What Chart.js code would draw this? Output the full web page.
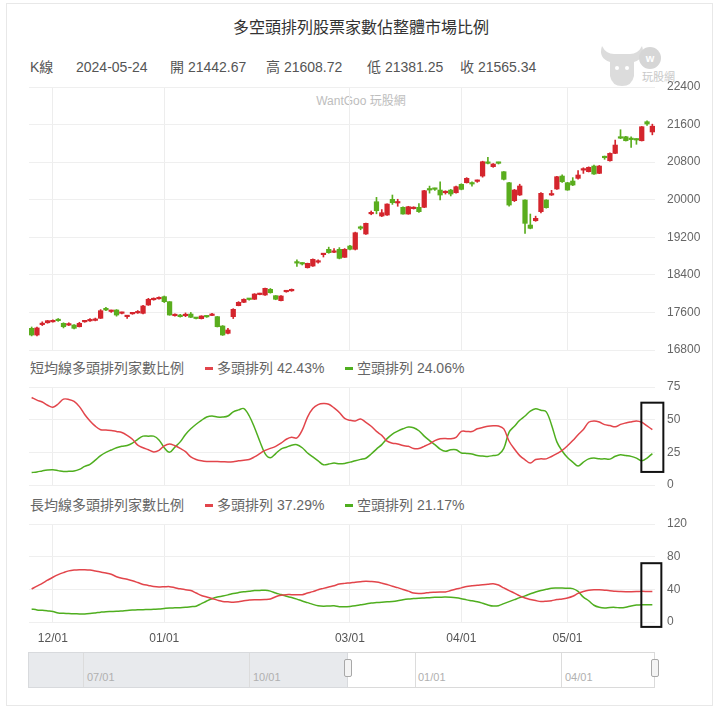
<!DOCTYPE html>
<html>
<head>
<meta charset="utf-8">
<script src="https://cdn.jsdelivr.net/npm/chart.js@4.4.1/dist/chart.umd.min.js"></script>
<style>
body { margin: 0; background: #fff; font-family: "Liberation Sans", "Noto Sans CJK TC", sans-serif; }
#wrap { position: relative; width: 720px; height: 710px; overflow: hidden; }
#frame { position: absolute; left: 6px; top: 3px; width: 707px; height: 703px; border: 1px solid #e8e8e8; box-sizing: border-box; }
canvas { position: absolute; left: 0; top: 0; }
.txt { position: absolute; white-space: nowrap; line-height: 18px; }
.dash { position: absolute; width: 8px; height: 3px; }
.slab { position: absolute; font-size: 11px; color: #b0b0b0; }
.vline { position: absolute; width: 1px; background: #dcdcdc; }
.handle { position: absolute; width: 6px; height: 16px; border: 1px solid #a8a8a8; background: #f4f4f4; border-radius: 2px; }
</style>
</head>
<body>
<div id="wrap">
  <div id="frame"></div>

  <div class="txt" style="left:0;width:722px;top:18px;text-align:center;font-size:16px;line-height:20px;color:#333;">多空頭排列股票家數佔整體市場比例</div>
  <div id="hdr"></div>
  <div class="txt" style="left:0;width:722px;top:92px;text-align:center;font-size:12px;color:#bdbdbd;">WantGoo 玩股網</div>

  <svg style="position:absolute;left:596px;top:40px;" width="100" height="50">
    <path d="M6 6 Q2 18 14 22 L14 36 Q16 46 26 46 Q36 46 38 36 L38 22 Q50 18 46 6 Q42 14 34 14 L18 14 Q10 14 6 6 Z" fill="#dcdcdc"/>
    <circle cx="21" cy="28" r="2" fill="#fff"/><circle cx="31" cy="28" r="2" fill="#fff"/>
    <circle cx="54" cy="18" r="11" fill="#d6d6d6"/>
    <text x="54" y="22" font-size="11" text-anchor="middle" fill="#fff" font-weight="bold">w</text>
    <text x="46" y="41" font-size="11" fill="#c8c8c8">玩股網</text>
  </svg>

  <div class="txt" style="left:30px;top:359px;font-size:14px;color:#666;">短均線多頭排列家數比例</div>
  <div class="dash" style="left:205px;top:367px;background:#e2454b;"></div>
  <div class="txt" id="sBull" style="left:217px;top:359px;font-size:14px;color:#666;"></div>
  <div class="dash" style="left:345px;top:367px;background:#4fae1f;"></div>
  <div class="txt" id="sBear" style="left:357px;top:359px;font-size:14px;color:#666;"></div>

  <div class="txt" style="left:30px;top:496px;font-size:14px;color:#666;">長均線多頭排列家數比例</div>
  <div class="dash" style="left:205px;top:504px;background:#e2454b;"></div>
  <div class="txt" id="lBull" style="left:217px;top:496px;font-size:14px;color:#666;"></div>
  <div class="dash" style="left:345px;top:504px;background:#4fae1f;"></div>
  <div class="txt" id="lBear" style="left:357px;top:496px;font-size:14px;color:#666;"></div>

  <!-- range slider under the charts -->
  <div style="position:absolute;left:28px;top:652px;width:627px;height:36px;border:1px solid #dadada;box-sizing:border-box;"></div>
  <div style="position:absolute;left:28px;top:652px;width:320px;height:36px;background:#e8eaed;border:1px solid #d8dadd;box-sizing:border-box;"></div>
  <div class="vline" style="left:83px;top:653px;height:34px;"></div>
  <div class="vline" style="left:249px;top:653px;height:34px;"></div>
  <div class="vline" style="left:415px;top:653px;height:34px;"></div>
  <div class="vline" style="left:561px;top:653px;height:34px;"></div>
  <div class="slab" style="left:87px;top:671px;">07/01</div>
  <div class="slab" style="left:253px;top:671px;">10/01</div>
  <div class="slab" style="left:418px;top:671px;">01/01</div>
  <div class="slab" style="left:565px;top:671px;">04/01</div>
  <div class="handle" style="left:344px;top:659px;"></div>
  <div class="handle" style="left:651px;top:659px;"></div>

  <canvas id="kChart" width="720" height="710"></canvas>
  <canvas id="sChart" width="720" height="710"></canvas>
  <canvas id="lChart" width="720" height="710"></canvas>
</div>

<script>
// trading days shown on the chart
const dates = [
  '2023-11-27','2023-11-28','2023-11-29','2023-11-30',
  '2023-12-01','2023-12-04','2023-12-05','2023-12-06','2023-12-07','2023-12-08',
  '2023-12-11','2023-12-12','2023-12-13','2023-12-14','2023-12-15',
  '2023-12-18','2023-12-19','2023-12-20','2023-12-21','2023-12-22',
  '2023-12-25','2023-12-26','2023-12-27','2023-12-28','2023-12-29',
  '2024-01-02','2024-01-03','2024-01-04','2024-01-05',
  '2024-01-08','2024-01-09','2024-01-10','2024-01-11','2024-01-12',
  '2024-01-15','2024-01-16','2024-01-17','2024-01-18','2024-01-19',
  '2024-01-22','2024-01-23','2024-01-24','2024-01-25','2024-01-26',
  '2024-01-29','2024-01-30','2024-01-31',
  '2024-02-01','2024-02-02','2024-02-05',
  '2024-02-15','2024-02-16','2024-02-19','2024-02-20','2024-02-21','2024-02-22','2024-02-23',
  '2024-02-26','2024-02-27','2024-02-29',
  '2024-03-01','2024-03-04','2024-03-05','2024-03-06','2024-03-07','2024-03-08',
  '2024-03-11','2024-03-12','2024-03-13','2024-03-14','2024-03-15',
  '2024-03-18','2024-03-19','2024-03-20','2024-03-21','2024-03-22',
  '2024-03-25','2024-03-26','2024-03-27','2024-03-28','2024-03-29',
  '2024-04-01','2024-04-02','2024-04-03',
  '2024-04-08','2024-04-09','2024-04-10','2024-04-11','2024-04-12',
  '2024-04-15','2024-04-16','2024-04-17','2024-04-18','2024-04-19',
  '2024-04-22','2024-04-23','2024-04-24','2024-04-25','2024-04-26',
  '2024-04-29','2024-04-30',
  '2024-05-02','2024-05-03',
  '2024-05-06','2024-05-07','2024-05-08','2024-05-09','2024-05-10',
  '2024-05-13','2024-05-14','2024-05-15','2024-05-16','2024-05-17',
  '2024-05-20','2024-05-21','2024-05-22','2024-05-23','2024-05-24'
];
const monthTicks = ['12/01', '01/01', '03/01', '04/01', '05/01'];

// K line (TAIEX)
const opens = [17262,17119,17340,17380,17400,17440,17368,17330,17332,17296,
  17400,17420,17430,17475,17688,17620,17652,17580,17510,17570,
  17590,17581,17758,17870,17890,17936,17829,17530,17545,17530,
  17566,17480,17467,17515,17535,17510,17311,17155,17510,17744,
  17815,17885,17880,17980,17971,18092,17957,17850,18040,18060,
  18660,18640,18552,18588,18670,18830,18944,18880,18944,18773,
  19014,18944,19400,19270,19700,19957,19653,19674,20008,19930,
  19838,19695,19810,19838,19838,20210,20225,20206,20149,20206,
  20149,20327,20362,20362,20390,20504,20790,20703,20790,20596,
  20362,19979,20100,19994,19461,19553,19745,19994,20100,20228,
  20504,20362,20398,20455,20630,20597,20717,20561,20900,20830,
  20987,21320,21341,21285,21275,21256,21661,21442.67];
const highs = [17290,17290,17400,17430,17440,17470,17380,17380,17340,17390,
  17420,17470,17480,17660,17710,17650,17660,17610,17540,17600,
  17640,17750,17900,17910,17930,17950,17830,17570,17560,17590,
  17600,17490,17530,17520,17580,17515,17320,17260,17680,17830,
  17890,17900,18000,18010,18120,18110,17960,17960,18070,18100,
  18720,18660,18650,18740,18720,18850,18990,18960,18980,18960,
  19030,19310,19440,19500,19760,20050,19790,19910,20100,20010,
  19850,19860,19850,19920,20200,20290,20250,20383,20190,20220,
  20290,20340,20470,20380,20420,20820,20900,20770,20800,20600,
  20370,20220,20330,20000,19695,19650,20150,20000,20200,20500,
  20530,20370,20470,20620,20680,20700,20740,20730,20930,21000,
  21270,21490,21350,21341,21300,21560,21680,21608.72];
const lows = [17100,17100,17320,17370,17390,17410,17270,17320,17250,17290,
  17390,17410,17420,17470,17640,17600,17520,17570,17470,17560,
  17580,17570,17750,17860,17880,17810,17540,17520,17500,17510,
  17490,17460,17460,17495,17530,17290,17110,17140,17470,17740,
  17810,17860,17875,17975,17960,18010,17870,17845,18030,18050,
  18580,18610,18545,18580,18650,18780,18860,18870,18740,18770,
  18930,18930,19360,19260,19680,19700,19640,19665,19900,19860,
  19690,19690,19800,19730,19830,20140,20200,19994,20120,20080,
  20140,20210,20355,20290,20370,20480,20760,20690,20760,20420,
  19860,19960,20090,19284,19380,19540,19720,19820,20090,20220,
  20370,20200,20300,20440,20560,20590,20540,20555,20860,20820,
  20980,21300,21250,21115,21180,21250,21580,21381.25];
const closes = [17119,17270,17370,17424,17410,17424,17296,17350,17262,17368,
  17410,17435,17450,17637,17652,17640,17545,17600,17531,17585,
  17610,17737,17880,17901,17915,17829,17545,17545,17510,17545,
  17496,17470,17524,17505,17550,17296,17119,17226,17666,17815,
  17880,17875,17992,17995,18113,18020,17880,17950,18056,18077,
  18650,18631,18645,18731,18680,18844,18872,18900,18752,18944,
  18944,19297,19391,19497,19710,19766,19723,19908,19936,19936,
  19695,19851,19825,19745,20192,20206,20221,20100,20180,20121,
  20277,20221,20455,20334,20410,20809,20774,20760,20775,20434,
  19887,20206,20292,19497,19391,19604,20136,19830,20114,20490,
  20383,20206,20313,20526,20647,20689,20547,20717,20894,20987,
  21164,21310,21256,21280,21271,21554,21612,21565.34];

// short-term MA alignment (% of stocks)
const shortBull = [67,65,63.5,61,59.5,62,65.7,65.5,64,60,
  54,49,45,42.3,42,41.8,41,40.2,38,35,
  30.5,28.5,27,25.3,26.5,30,31.4,30,28,25.6,
  21.5,19.5,18.5,18,18,18,17.8,17.6,17.8,18.5,
  19,19.5,21.5,24,26.5,28,29.6,32,35,36.5,
  36,42,52,58.5,61.5,62.3,61.8,59,55.5,51,
  49.5,49,50.5,48,45,41,38,33.5,32,31.4,
  30.2,29.6,28,28,29.6,31.5,34,35.4,35.6,35.4,
  36.5,41,41,40.9,43,44,45,45.3,45.2,43,
  33.5,27.5,22.5,19.3,16.8,19.5,20,20,21.8,24,
  26.5,30,34,38.5,42.5,48,49,48.2,46.2,45.5,
  44.5,46.4,47.5,48.3,49,48,45.2,42.43];
const shortBear = [9.5,10,10.8,11.4,11.6,11,10.3,10.5,10.7,12,
  14.2,15.8,19,22.5,25,26.8,28.5,29.6,30.2,32,
  35,37.4,37.4,37.4,34.5,28.5,25,29,33,38.7,
  43,46.5,49.5,52,52.8,52,52,52.8,56,57.5,
  58.5,53,44,33.5,24,20.8,24,27.5,28.9,30.5,
  30.8,28.5,24.5,21.5,18.5,15.5,16,16.8,16.2,16.5,
  17.5,18.6,19.6,20.5,23.7,27.5,30.9,35.5,39,41.2,
  43,44.3,43.8,41.5,37.4,34,30.9,27.5,25.8,27,
  27,24.5,24.2,23.7,22.5,22.2,21.9,22.5,23.2,28,
  40.5,45,49.5,52.8,56.5,58.3,57.2,56,46,33,
  26,21,17.5,14.5,17.5,20,20.6,20,20,19.8,
  22,23.2,22.5,21.9,20.6,18.6,20.6,24.06];

// long-term MA alignment (% of stocks)
const longBull = [40.4,44,47.4,51.2,54.8,58,60.5,62.6,63.6,64,
  64,63.6,62.5,61.2,60,58.4,55.5,53.6,52.3,50.5,
  48.3,46,44.8,43.6,43,43.1,43.3,42,40.6,39.6,
  38.5,35.5,32.5,30.6,28.7,26.8,25.2,24.7,24.3,24.8,
  26.1,26.8,27.3,27.3,27.5,28.2,31,32.8,33.5,33.5,
  33.5,33.5,35.5,37.2,39.5,41.2,42.9,44.5,46.4,47.3,
  47.9,48.7,49.3,49.8,49.5,48.9,47.6,46,43.8,42.1,
  39.8,37.8,35.4,34.9,35.3,36.2,36.5,36.7,36.7,38.5,
  40.3,41.8,43.5,44.3,45,45.5,46.1,46.9,45.3,41.7,
  38.4,35.4,32,29.3,27.6,26.2,25.1,25.4,26.1,27.5,
  28.2,29.4,31.5,35,37.3,38.8,39.4,39.4,38.9,38.4,
  37.6,37.3,37.1,37.1,37.2,37.5,37.4,37.29];
const longBear = [15.9,14.8,14.3,13.6,12.8,11,10.6,10.3,10.1,9.9,
  9.8,10.3,11.1,12,12.7,12.9,13.1,13.6,14.2,14.6,
  14.9,15.1,15.3,15.6,15.9,16.6,17.2,17.3,17.5,18,
  18.7,19.4,22.5,25.7,28.5,30.5,31.8,33.2,34.8,36,
  37,37.7,38.5,38.7,38.8,37.8,35.5,33.6,31.5,30,
  28,25.7,23.7,21.6,19.9,19.3,19.6,19.8,18.8,18.6,
  19,19.8,21,22,23.3,23.8,24.2,24.7,25.1,26,
  27.3,28.2,28.7,29.2,29.5,29.8,30.2,30.4,30.5,30.2,
  29.6,28.5,27.1,26,24.8,23,20.9,19.5,20,22.5,
  25,27.4,29.8,32,34.5,36.8,38.6,40,41.4,41.6,
  41.6,41.2,40.9,37.4,30.5,26,20.5,18,17.2,17.8,
  17.9,17.3,18,19.7,20.7,21.2,21.2,21.17];

// axis ranges [min, max, step]
const priceAxis = [16800, 22400, 800];
const shortAxis = [0, 75, 25];
const longAxis = [0, 120, 40];
// highlight box around the latest day, in value units [bottom, top]
const shortBox = [10, 63];
const longBox = [-6, 72];

const UP = '#d4252d', DOWN = '#5aad1e';
const RED_LINE = '#e2454b', GREEN_LINE = '#4fae1f';

const last = dates.length - 1;
const candleColors = opens.map((o, i) => closes[i] >= o ? UP : DOWN);

// header + legend text
const hdrItems = [
  ['K線', 30], [dates[last], 76],
  ['開 ' + opens[last].toFixed(2), 170], ['高 ' + highs[last].toFixed(2), 266],
  ['低 ' + lows[last].toFixed(2), 367], ['收 ' + closes[last].toFixed(2), 460]
];
document.getElementById('hdr').innerHTML = hdrItems.map(h =>
  `<div class="txt" style="left:${h[1]}px;top:58px;font-size:14px;color:#555;">${h[0]}</div>`).join('');
document.getElementById('sBull').textContent = '多頭排列 ' + shortBull[last].toFixed(2) + '%';
document.getElementById('sBear').textContent = '空頭排列 ' + shortBear[last].toFixed(2) + '%';
document.getElementById('lBull').textContent = '多頭排列 ' + longBull[last].toFixed(2) + '%';
document.getElementById('lBear').textContent = '空頭排列 ' + longBear[last].toFixed(2) + '%';

Chart.defaults.font.family = '"Liberation Sans", "Noto Sans CJK TC", sans-serif';

function monthLabel(i) {
    const m = dates[i].slice(5, 7);
    if (i > 0 && dates[i - 1].slice(5, 7) === m) return '';
    const lab = m + '/01';
    return monthTicks.includes(lab) ? lab : '';
}

function xAxis(showLabels) {
    return {
        type: 'category',
        offset: true,
        border: { display: false },
        grid: {
            offset: false,
            drawTicks: false,
            color: c => monthLabel(c.index) ? '#ededed' : 'rgba(0,0,0,0)'
        },
        ticks: {
            display: showLabels,
            autoSkip: false,
            maxRotation: 0,
            padding: 9,
            color: '#555',
            font: { size: 12 },
            callback: (v, i) => monthLabel(i)
        },
        afterFit: s => { s.height = showLabels ? 30 : 0; }
    };
}

function yAxis(range) {
    return {
        position: 'right',
        min: range[0],
        max: range[1],
        border: { display: false },
        grid: { drawTicks: false, color: '#efefef' },
        ticks: {
            stepSize: range[2],
            padding: 12,
            color: '#666',
            font: { size: 12 },
            callback: v => String(v)   // no thousands separator
        },
        afterFit: s => { s.width = 65; }
    };
}

const boxPlugin = {
    id: 'lastBox',
    afterDatasetsDraw(chart, args, opts) {
        if (!opts.range) return;
        const { ctx, scales: { x, y } } = chart;
        const cx = x.getPixelForValue(last);
        const top = y.getPixelForValue(opts.range[1]);
        const bot = y.getPixelForValue(opts.range[0]);
        ctx.save();
        ctx.strokeStyle = '#111';
        ctx.lineWidth = 2;
        ctx.strokeRect(cx - 11, top, 11 + opts.right, bot - top);
        ctx.restore();
    }
};

function baseOptions(pad, showX, yRange) {
    return {
        responsive: false,
        animation: false,
        layout: { padding: pad },
        plugins: { legend: { display: false }, tooltip: { enabled: false } },
        scales: { x: xAxis(showX), y: yAxis(yRange) }
    };
}

// candlestick panel: wick + body as floating bars
new Chart(document.getElementById('kChart'), {
    type: 'bar',
    data: {
        labels: dates,
        datasets: [
            {
                data: lows.map((l, i) => [l, highs[i]]),
                backgroundColor: candleColors,
                barThickness: 1,
                grouped: false,
                order: 2
            },
            {
                data: opens.map((o, i) => [o, closes[i]]),
                backgroundColor: candleColors,
                barThickness: 4.6,
                minBarLength: 1.5,
                grouped: false,
                order: 1
            }
        ]
    },
    options: baseOptions({ left: 29, right: 0, top: 87, bottom: 360 }, false, priceAxis)
});

function lineSet(values, color) {
    return {
        data: values,
        borderColor: color,
        borderWidth: 1.5,
        pointRadius: 0,
        tension: 0.35,
        fill: false
    };
}

const sOpts = baseOptions({ left: 29, right: 0, top: 387, bottom: 225 }, false, shortAxis);
sOpts.plugins.lastBox = { range: shortBox, right: 11 };
new Chart(document.getElementById('sChart'), {
    type: 'line',
    data: { labels: dates, datasets: [lineSet(shortBull, RED_LINE), lineSet(shortBear, GREEN_LINE)] },
    options: sOpts,
    plugins: [boxPlugin]
});

const lOpts = baseOptions({ left: 29, right: 0, top: 524, bottom: 58 }, true, longAxis);
lOpts.plugins.lastBox = { range: longBox, right: 9 };
new Chart(document.getElementById('lChart'), {
    type: 'line',
    data: { labels: dates, datasets: [lineSet(longBull, RED_LINE), lineSet(longBear, GREEN_LINE)] },
    options: lOpts,
    plugins: [boxPlugin]
});
</script>
</body>
</html>
